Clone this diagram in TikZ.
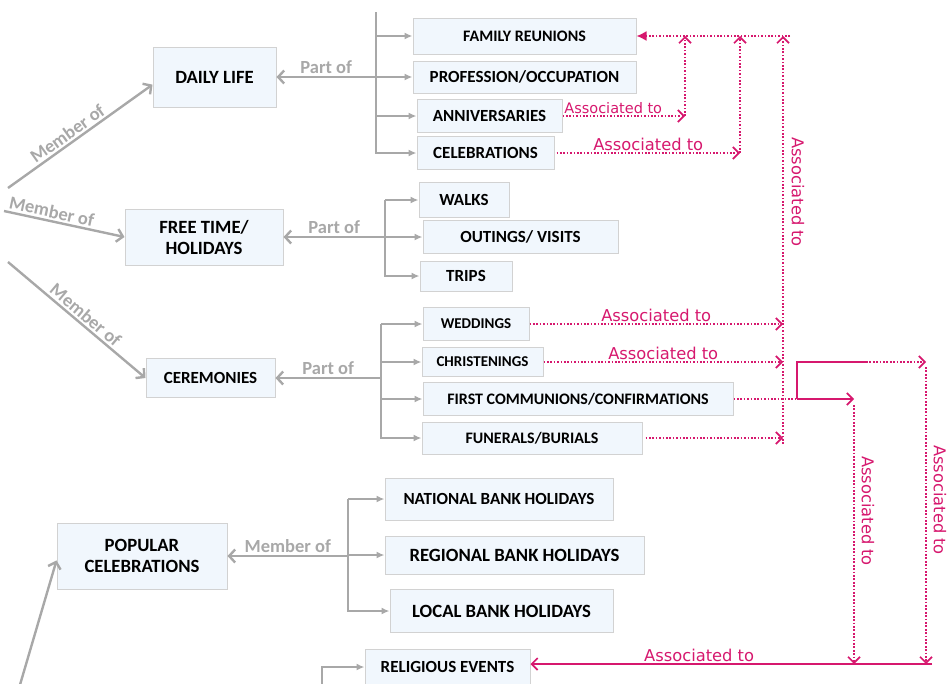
\documentclass[tikz,border=0pt]{standalone}
\usepackage{fontspec}
\setmainfont{Carlito}
\newfontfamily\assocfont{DejaVu Sans}
\usetikzlibrary{arrows.meta}
\definecolor{boxfill}{RGB}{241,247,253}
\definecolor{boxline}{RGB}{210,210,210}
\definecolor{linkgrey}{RGB}{168,168,168}
\definecolor{assocpink}{RGB}{214,24,110}

\begin{document}
\begin{tikzpicture}[x=1pt, y=-1pt,
    box/.style={draw=boxline, line width=1pt, fill=boxfill, inner sep=0pt, align=center,
        font=\bfseries\fontsize{17}{21}\selectfont},
    big/.style={font=\bfseries\fontsize{18.7}{21}\selectfont},
    mid/.style={font=\bfseries\fontsize{16}{19}\selectfont},
    small/.style={font=\bfseries\fontsize{15}{17}\selectfont},
    trunk/.style={draw=linkgrey, line width=2.4pt},
    branch/.style={trunk, -{Latex[length=8pt,width=7pt]}},
    parent/.style={trunk, -{Straight Barb[length=6pt,width=13pt]}},
    greylabel/.style={text=linkgrey, inner sep=2pt, font=\bfseries\fontsize{18.5}{20}\selectfont},
    assoc/.style={draw=assocpink, line width=1.7pt, dash pattern=on 1.7pt off 1.7pt},
    assocline/.style={draw=assocpink, line width=1.7pt},
    barb/.style={-{Straight Barb[length=6pt,width=12pt]}},
    assoclabel/.style={text=assocpink, inner sep=1pt, font=\assocfont\fontsize{16.3}{18}\selectfont}]

    \useasboundingbox (0,0) rectangle (947,683);
    \clip (0,0) rectangle (947,683);

    % Boxes
    \node[box, big, minimum width=123pt, minimum height=60pt] (dl) at (214.5,77) {DAILY LIFE};
    \node[box, mid, minimum width=223pt, minimum height=36pt] (fam) at (524.5,36) {FAMILY REUNIONS};
    \node[box, minimum width=223pt, minimum height=32pt] (prof) at (524.5,77) {PROFESSION/OCCUPATION};
    \node[box, minimum width=145pt, minimum height=33pt] (ann) at (489.5,116) {ANNIVERSARIES};
    \node[box, minimum width=137pt, minimum height=33pt] (cel) at (485.5,153) {CELEBRATIONS};

    \node[box, big, minimum width=158pt, minimum height=56pt] (free) at (204,237) {FREE TIME/\\HOLIDAYS};
    \node[box, minimum width=90pt, minimum height=35pt] (walk) at (464,200) {WALKS};
    \node[box, minimum width=195pt, minimum height=33pt] (out) at (520.5,237) {OUTINGS/ VISITS};
    \node[box, minimum width=92pt, minimum height=30pt] (trip) at (466,276) {TRIPS};

    \node[box, minimum width=129pt, minimum height=39pt] (cer) at (210.5,378) {CEREMONIES};
    \node[box, small, minimum width=106pt, minimum height=33pt] (wed) at (476,324) {WEDDINGS};
    \node[box, small, minimum width=121pt, minimum height=29pt] (chr) at (482.5,362) {CHRISTENINGS};
    \node[box, mid, minimum width=310pt, minimum height=33pt] (fcc) at (578,399) {FIRST COMMUNIONS/CONFIRMATIONS};
    \node[box, mid, minimum width=220pt, minimum height=32pt] (fun) at (532,438) {FUNERALS/BURIALS};

    \node[box, big, minimum width=170pt, minimum height=66pt] (pop) at (142,556) {POPULAR\\CELEBRATIONS};
    \node[box, minimum width=228pt, minimum height=42pt] (nat) at (499,499) {NATIONAL BANK HOLIDAYS};
    \node[box, big, minimum width=259pt, minimum height=38pt] (reg) at (514.5,555) {REGIONAL BANK HOLIDAYS};
    \node[box, big, minimum width=223pt, minimum height=43pt] (loc) at (501.5,611) {LOCAL BANK HOLIDAYS};
    \node[box, minimum width=165pt, minimum height=36pt] (rel) at (447.5,667) {RELIGIOUS EVENTS};

    % Member of
    \coordinate (m1) at (8,188);
    \coordinate (m2) at (4,211);
    \coordinate (m3) at (8,262);
    \coordinate (m4) at (17,695);
    \draw[parent] (m1) -- (dl.187) node[greylabel, sloped, above, pos=0.45] {Member of};
    \draw[parent] (m2) -- (free.west) node[greylabel, sloped, above, pos=0.38] {Member of};
    \draw[parent] (m3) -- (cer.west) node[greylabel, sloped, above, pos=0.52] {Member of};
    \draw[parent] (m4) -- (pop.183);

    % Daily life parts
    \coordinate (dlt) at (376,12);
    \draw[trunk] (dlt) -- (dlt |- fam.west);
    \draw[branch] (dlt |- fam.west) -- (fam.west);
    \draw[branch] (dlt |- fam.west) |- (prof.west);
    \draw[branch] (dlt |- fam.west) |- (ann.west);
    \draw[branch] (dlt |- fam.west) |- (cel.west);
    \draw[parent] (dlt |- dl.east) -- (dl.east) node[greylabel, midway, above] {Part of};

    % Free time parts
    \coordinate (ftt) at (385,200);
    \draw[branch] (ftt) -- (walk.west);
    \draw[branch] (ftt) |- (out.west);
    \draw[branch] (ftt) |- (trip.west);
    \draw[parent] (ftt |- free.east) -- (free.east) node[greylabel, midway, above] {Part of};

    % Ceremonies parts
    \coordinate (cet) at (381,324);
    \draw[branch] (cet) -- (wed.west);
    \draw[branch] (cet) |- (chr.west);
    \draw[branch] (cet) |- (fcc.west);
    \draw[branch] (cet) |- (fun.west);
    \draw[parent] (cet |- cer.east) -- (cer.east) node[greylabel, midway, above] {Part of};

    % Popular celebrations members
    \coordinate (pct) at (348,499);
    \draw[branch] (pct) -- (nat.west);
    \draw[branch] (pct) |- (reg.west);
    \draw[branch] (pct) |- (loc.west);
    \draw[parent] (pct |- pop.east) -- (pop.east) node[greylabel, midway, above] {Member of};

    \coordinate (rlt) at (322,700);
    \draw[branch] (rlt) |- (rel.west);

    % Associations
    \coordinate (j1) at (685,36);
    \coordinate (j2) at (740,36);
    \coordinate (j3) at (783,36);
    \coordinate (jend) at (790,36);
    \coordinate (v3) at (783,444);
    \draw[assoc, -{Latex[length=10pt,width=10pt]}] (jend) -- (fam.east);
    \draw[assoc, barb] (ann.east) -- (j1 |- ann.east) node[assoclabel, pos=0, anchor=south west, font=\assocfont\fontsize{14.5}{16}\selectfont] {Associated to};
    \draw[assoc, barb] (j1 |- ann.east) -- (j1);
    \draw[assoc, barb] ([xshift=2pt]cel.east) -- (j2 |- cel.east) node[assoclabel, midway, above] {Associated to};
    \draw[assoc, barb] (j2 |- cel.east) -- (j2);
    \draw[assoc, barb] (v3) -- (j3);
    \node[assoclabel, rotate=-90] (lbv3) at (798,192) {Associated to};
    \draw[assoc, barb] (wed.east) -- (j3 |- wed.east) node[assoclabel, midway, above] {Associated to};
    \draw[assoc, barb] (chr.east) -- (j3 |- chr.east) node[assoclabel, midway, above] {Associated to};
    \draw[assoc, barb] ([xshift=3pt]fun.east) -- (j3 |- fun.east);

    \coordinate (d1) at (854,405);
    \coordinate (d2) at (926,367);
    \coordinate (e1) at (854,664);
    \coordinate (e2) at (926,664);
    \coordinate (eend) at (932,664);
    \coordinate (k1) at (797,362);
    \coordinate (k2) at (866,362);
    \draw[assoc] (fcc.east) -- (k1 |- fcc.east);
    \draw[assocline, barb] (k1 |- fcc.east) -- (d1 |- fcc.east);
    \draw[assocline] (k1 |- fcc.east) -- (k1) -- (k2);
    \draw[assoc, barb] (k2) -- (d2 |- k2);
    \draw[assoc, barb] (d1) -- (e1);
    \draw[assoc, barb] (d2) -- (e2);
    \node[assoclabel, rotate=-90] (lbd1) at (868,511) {Associated to};
    \node[assoclabel, rotate=-90] (lbd2) at (940,500) {Associated to};
    \draw[assocline, barb] (eend) -- (eend -| rel.east) node[assoclabel, above, pos=0.58] {Associated to};
\end{tikzpicture}
\end{document}
